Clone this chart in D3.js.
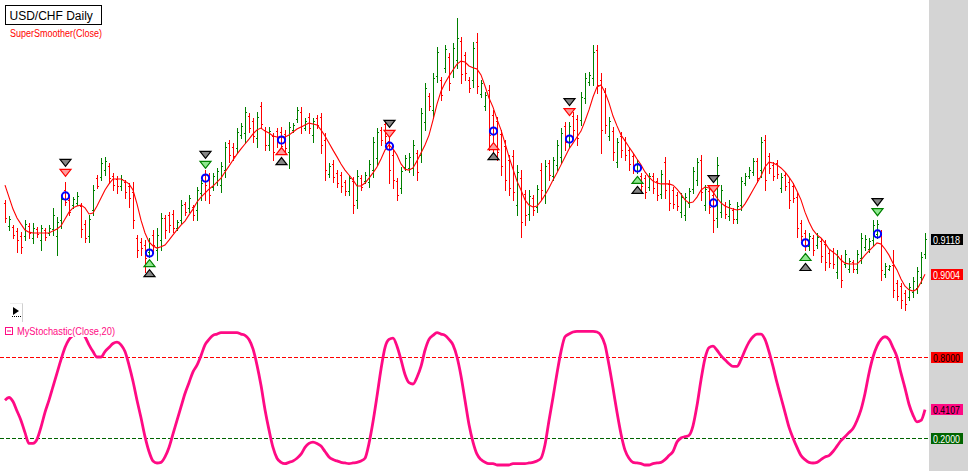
<!DOCTYPE html>
<html><head><meta charset="utf-8">
<script src="https://cdn.jsdelivr.net/npm/d3@7"></script>
<style>html,body{margin:0;padding:0;background:#fff;}svg{display:block;}</style>
</head><body>
<svg id="c" width="968" height="471"></svg>
<script>
// prices in pips (x 1e-4)
const opensPips = [9236,9161,9158,9145,9128,9128,9161,9122,9151,9115,
9148,9138,9151,9128,9180,9278,9246,9229,9236,9226,
9167,9128,9213,9317,9320,9343,9356,9324,9314,9291,
9304,9291,9272,9122,9109,9099,9076,9132,9083,9115,
9187,9197,9200,9154,9180,9233,9220,9223,9213,9268,
9327,9324,9288,9304,9294,9343,9431,9418,9415,9457,
9464,9519,9503,9448,9552,9474,9425,9454,9470,9467,
9461,9402,9474,9509,9532,9480,9516,9457,9513,9516,
9441,9330,9363,9334,9327,9304,9275,9307,9246,9317,
9307,9304,9343,9382,9474,9493,9438,9392,9307,9285,
9353,9350,9350,9399,9392,9500,9584,9539,9649,9636,
9676,9711,9669,9702,9763,9718,9636,9636,9760,9591,
9552,9604,9522,9503,9461,9421,9376,9389,9229,9317,
9265,9200,9252,9223,9343,9262,9366,9324,9360,9386,
9487,9434,9519,9509,9506,9578,9630,9643,9734,9636,
9597,9454,9470,9369,9454,9441,9408,9389,9340,9324,
9317,9288,9324,9307,9265,9369,9298,9278,9262,9206,
9197,9236,9281,9311,9376,9229,9275,9262,9187,9206,
9229,9193,9213,9184,9229,9301,9324,9337,9373,9343,
9441,9389,9360,9366,9285,9327,9304,9291,9255,9171,
9138,9096,9122,9099,9112,9102,9073,9080,9011,9053,
9037,9021,9044,9021,9057,9093,9086,9115,9135,9135,
9005,9021,9034,8975,8965,8943,8930,8946,8959,8995,
9070];
const highsPips = [9246,9193,9164,9154,9141,9180,9171,9171,9158,9164,
9154,9164,9220,9190,9262,9304,9255,9255,9272,9236,
9180,9197,9294,9327,9382,9386,9366,9334,9324,9327,
9311,9301,9304,9132,9122,9115,9122,9148,9154,9203,
9197,9206,9213,9180,9246,9239,9262,9229,9288,9311,
9343,9334,9334,9350,9369,9434,9441,9431,9480,9496,
9548,9529,9513,9532,9565,9483,9483,9464,9480,9483,
9474,9500,9496,9548,9548,9513,9529,9513,9522,9529,
9464,9366,9376,9343,9337,9311,9327,9320,9343,9327,
9337,9376,9451,9480,9483,9506,9451,9408,9317,9353,
9392,9399,9441,9408,9545,9627,9594,9659,9744,9646,
9750,9724,9757,9838,9776,9728,9646,9760,9790,9636,
9597,9620,9539,9516,9474,9441,9392,9408,9360,9343,
9278,9278,9262,9294,9366,9376,9376,9386,9441,9480,
9500,9500,9532,9522,9597,9659,9662,9750,9750,9659,
9610,9516,9483,9448,9467,9451,9418,9399,9376,9334,
9327,9334,9334,9317,9343,9386,9311,9288,9272,9268,
9268,9285,9353,9382,9392,9294,9285,9278,9386,9294,
9239,9246,9220,9239,9320,9334,9353,9382,9382,9451,
9457,9399,9369,9376,9334,9337,9317,9301,9268,9180,
9148,9138,9132,9138,9122,9115,9083,9089,9083,9066,
9083,9057,9050,9083,9138,9132,9122,9180,9180,9148,
9040,9034,9083,8985,8975,8952,8975,8995,9027,9076,
9138];
const lowsPips = [9174,9148,9122,9076,9073,9115,9122,9106,9125,9083,
9115,9132,9132,9066,9154,9229,9197,9220,9229,9125,
9109,9109,9197,9285,9311,9327,9301,9278,9268,9278,
9252,9223,9154,9060,9066,9011,9060,9073,9050,9083,
9122,9141,9141,9148,9171,9197,9206,9180,9180,9246,
9246,9236,9278,9294,9272,9320,9369,9376,9402,9448,
9431,9467,9434,9418,9480,9408,9408,9376,9418,9402,
9399,9350,9467,9500,9464,9474,9464,9434,9480,9399,
9311,9320,9304,9288,9272,9262,9262,9203,9220,9278,
9301,9288,9320,9360,9425,9431,9301,9285,9246,9268,
9343,9337,9327,9311,9369,9474,9539,9513,9630,9571,
9662,9604,9646,9676,9627,9636,9597,9614,9594,9581,
9539,9408,9386,9376,9327,9278,9262,9246,9197,9125,
9164,9180,9197,9206,9246,9236,9311,9311,9343,9366,
9408,9418,9451,9425,9490,9562,9620,9620,9594,9399,
9464,9441,9376,9353,9386,9376,9343,9334,9334,9278,
9252,9278,9268,9246,9252,9252,9213,9220,9213,9190,
9180,9223,9268,9294,9246,9213,9203,9141,9158,9190,
9187,9180,9171,9171,9213,9294,9317,9327,9304,9320,
9278,9334,9311,9317,9272,9278,9220,9239,9125,9115,
9083,9083,9066,9089,9044,9018,9027,9024,8992,8962,
9027,9011,9011,9008,9040,9083,9076,9099,9122,8985,
8995,9018,8930,8920,8894,8887,8920,8930,8943,8975,
9057];
const closesPips = [9187,9184,9132,9115,9093,9167,9138,9154,9135,9154,
9125,9154,9197,9174,9249,9239,9206,9249,9259,9151,
9122,9184,9278,9291,9366,9373,9317,9294,9291,9314,
9272,9252,9180,9083,9089,9057,9106,9099,9132,9187,
9148,9164,9154,9174,9229,9206,9252,9197,9278,9301,
9294,9262,9324,9340,9356,9418,9392,9389,9467,9487,
9532,9480,9454,9516,9493,9425,9470,9402,9438,9421,
9415,9483,9490,9539,9487,9503,9480,9503,9490,9425,
9343,9356,9320,9301,9291,9275,9317,9229,9324,9288,
9327,9363,9434,9467,9441,9454,9343,9311,9262,9340,
9382,9386,9425,9337,9529,9610,9552,9643,9728,9588,
9737,9627,9741,9773,9656,9659,9610,9741,9617,9627,
9588,9457,9415,9402,9356,9311,9285,9272,9337,9174,
9197,9259,9213,9281,9278,9356,9327,9376,9425,9464,
9434,9487,9474,9448,9581,9643,9653,9728,9620,9474,
9490,9503,9402,9434,9408,9392,9363,9350,9366,9291,
9272,9324,9285,9262,9330,9278,9236,9233,9226,9255,
9255,9275,9340,9369,9272,9281,9223,9180,9360,9278,
9200,9233,9184,9226,9307,9324,9343,9373,9317,9434,
9311,9350,9324,9330,9320,9291,9246,9252,9154,9128,
9099,9128,9083,9125,9063,9044,9040,9037,9063,8985,
9070,9047,9021,9070,9122,9118,9112,9164,9167,9018,
9031,9031,8952,8933,8920,8907,8962,8982,9014,9060,
9118];
const smootherPips = [9294,9255,9216,9187,9167,9148,9141,9138,9138,9138,
9138,9138,9145,9151,9161,9184,9206,9220,9226,9229,
9220,9200,9203,9226,9252,9278,9298,9314,9314,9314,
9307,9298,9278,9233,9180,9138,9109,9096,9089,9093,
9099,9115,9132,9148,9164,9177,9197,9216,9239,9255,
9268,9281,9291,9304,9317,9337,9356,9376,9395,9412,
9428,9444,9461,9474,9480,9470,9464,9454,9451,9451,
9451,9457,9467,9477,9483,9490,9496,9493,9490,9474,
9454,9431,9408,9386,9363,9343,9327,9311,9291,9291,
9301,9317,9334,9353,9379,9408,9425,9412,9392,9363,
9346,9343,9350,9373,9399,9425,9457,9506,9558,9600,
9627,9649,9669,9688,9698,9695,9682,9676,9672,9653,
9617,9578,9548,9509,9474,9431,9386,9346,9307,9278,
9246,9229,9223,9226,9242,9262,9285,9311,9334,9360,
9386,9412,9431,9451,9470,9503,9539,9581,9614,9620,
9597,9562,9519,9487,9457,9438,9418,9399,9379,9360,
9337,9320,9307,9301,9298,9298,9298,9294,9281,9265,
9246,9236,9239,9255,9278,9288,9285,9272,9252,9236,
9226,9220,9216,9213,9216,9233,9255,9278,9301,9324,
9353,9369,9366,9360,9350,9337,9320,9301,9275,9246,
9206,9174,9148,9132,9122,9106,9086,9076,9066,9050,
9040,9037,9037,9037,9050,9066,9080,9093,9106,9102,
9086,9066,9040,9018,8988,8965,8953,8949,8955,8978,
9004];
const stochValues = [0.48,0.50,0.47,0.40,0.33,0.24,0.16,0.16,0.19,0.28,
0.39,0.48,0.58,0.68,0.78,0.87,0.93,0.96,0.98,0.98,
0.95,0.89,0.84,0.80,0.80,0.84,0.87,0.90,0.91,0.89,
0.84,0.74,0.62,0.48,0.35,0.21,0.10,0.03,0.015,0.02,
0.06,0.13,0.23,0.33,0.43,0.53,0.61,0.69,0.74,0.81,
0.89,0.93,0.96,0.97,0.98,0.98,0.98,0.98,0.98,0.97,
0.96,0.93,0.86,0.74,0.59,0.41,0.26,0.13,0.05,0.02,
0.01,0.02,0.03,0.05,0.08,0.13,0.16,0.17,0.16,0.14,
0.10,0.06,0.04,0.03,0.02,0.015,0.01,0.015,0.02,0.03,
0.05,0.16,0.32,0.51,0.71,0.87,0.93,0.94,0.88,0.78,
0.67,0.61,0.60,0.65,0.73,0.85,0.93,0.96,0.98,0.97,
0.96,0.93,0.89,0.80,0.66,0.48,0.30,0.17,0.08,0.04,
0.02,0.01,0.01,0.00,0.00,0.00,0.00,0.01,0.01,0.01,
0.01,0.015,0.02,0.03,0.05,0.15,0.33,0.50,0.68,0.84,
0.95,0.97,0.985,0.99,0.99,0.99,0.99,0.99,0.985,0.96,
0.89,0.74,0.57,0.39,0.23,0.11,0.05,0.02,0.015,0.01,
0.00,0.00,0.01,0.015,0.02,0.04,0.07,0.10,0.17,0.20,
0.21,0.22,0.29,0.44,0.63,0.79,0.87,0.88,0.85,0.81,
0.78,0.75,0.73,0.73,0.78,0.85,0.91,0.95,0.97,0.97,
0.93,0.84,0.73,0.61,0.50,0.39,0.28,0.20,0.13,0.07,
0.04,0.02,0.015,0.02,0.04,0.06,0.07,0.10,0.14,0.18,
0.21,0.24,0.27,0.33,0.41,0.53,0.68,0.80,0.88,0.93,
0.95,0.93,0.87,0.80,0.68,0.57,0.45,0.37,0.32,0.33,
0.4107];
// signals
const sigIndex  = [15, 36, 50, 69, 96, 122, 141, 158, 177, 200, 218];
const sigCircle = [9259, 9073, 9317, 9441, 9421, 9470, 9444, 9350, 9236, 9106, 9135];
const sigTri    = [9334, 9040, 9360, 9405, 9461, 9421, 9532, 9311, 9281, 9060, 9206];
const sigDir    = ["down","up","down","up","down","up","down","up","down","up","down"];
const sigKind   = ["sell","buy","buy","sell","sell","sell","sell","buy","sell","buy","buy"];
const stochLevels = [0.8, 0.2];
const stochLevelColors = ['#ff0000', '#006400'];
const titleText = "USD/CHF Daily";
const smootherName = "SuperSmoother(Close)";
const stochName = "MyStochastic(Close,20)";

const N = closesPips.length;
const P = v => v / 10000;
const svg = d3.select('#c');
const FONT = "'Liberation Sans', Arial, sans-serif";
const PINK = '#ff0a84';

svg.append('rect').attr('width', 968).attr('height', 471).attr('fill', '#fff');
svg.append('rect').attr('x', 929).attr('y', 0).attr('width', 39).attr('height', 471).attr('fill', '#d4d4d4');

const defs = svg.append('defs');
defs.append('clipPath').attr('id', 'cm').append('rect').attr('x', 0).attr('y', 0).attr('width', 929).attr('height', 471);

const x = d3.scalePoint().domain(d3.range(N)).range([5, 925]);
const y = d3.scaleLinear().domain([0.885476, 0.9897]).range([320, 0]);
const ys = d3.scaleLinear().domain([0, 1]).range([465, 330]);

const plot = svg.append('g').attr('clip-path', 'url(#cm)');

// stochastic level lines
stochLevels.forEach((lv, k) => {
  const yy = Math.round(ys(lv)) + 0.5;
  plot.append('line').attr('x1', 0).attr('x2', 929).attr('y1', yy).attr('y2', yy)
    .attr('stroke', stochLevelColors[k]).attr('stroke-width', 1)
    .attr('stroke-dasharray', '4,2').attr('shape-rendering', 'crispEdges');
});

// OHLC bars
const bars = plot.append('g').attr('shape-rendering', 'crispEdges');
d3.range(N).forEach(i => {
  const o = P(opensPips[i]), h = P(highsPips[i]), l = P(lowsPips[i]), c = P(closesPips[i]);
  const col = c >= o ? '#008000' : '#ff0000';
  const xi = Math.round(x(i)) + 0.5;
  bars.append('line').attr('x1', xi).attr('x2', xi)
    .attr('y1', Math.round(y(h))).attr('y2', Math.round(y(l)) + 1)
    .attr('stroke', col);
  const yo = Math.round(y(o)) + 0.5, yc = Math.round(y(c)) + 0.5;
  bars.append('line').attr('x1', xi - 1.5).attr('x2', xi - 0.5).attr('y1', yo).attr('y2', yo).attr('stroke', col);
  bars.append('line').attr('x1', xi + 0.5).attr('x2', xi + 1.5).attr('y1', yc).attr('y2', yc).attr('stroke', col);
});

// SuperSmoother
plot.append('path')
  .attr('d', d3.line().x((d, i) => x(i)).y(d => y(P(d)))(smootherPips))
  .attr('fill', 'none').attr('stroke', '#ff0000').attr('stroke-width', 1.1);

// signals
const triStyle = {
  sell: { fill: '#ff9c9c', stroke: '#ff0000' },
  buy:  { fill: '#8ee88e', stroke: '#008000' },
  gray: { fill: '#858585', stroke: '#000000' }
};
function tri(g, cx, cy, dir, st) {
  const w = 5.5, h = 3.5;
  const pts = dir === 'down'
    ? [[cx - w, cy - h], [cx + w, cy - h], [cx, cy + h]]
    : [[cx - w, cy + h], [cx + w, cy + h], [cx, cy - h]];
  g.append('path').attr('d', 'M' + pts.map(p => p.join(',')).join('L') + 'Z')
    .attr('fill', st.fill).attr('stroke', st.stroke).attr('stroke-width', 1.2);
}
const sg = plot.append('g');
sigIndex.forEach((idx, k) => {
  const cx = Math.round(x(idx)) + 0.5;
  const ty = y(P(sigTri[k]));
  const dir = sigDir[k];
  tri(sg, cx, ty, dir, triStyle[sigKind[k]]);
  tri(sg, cx, dir === 'down' ? ty - 10 : ty + 10, dir, triStyle.gray);
  sg.append('circle').attr('cx', cx).attr('cy', y(P(sigCircle[k]))).attr('r', 3.6)
    .attr('fill', 'none').attr('stroke', '#0000ff').attr('stroke-width', 2);
});

// stochastic line
plot.append('path')
  .attr('d', d3.line().x((d, i) => x(i)).y(d => ys(d)).curve(d3.curveMonotoneX)(stochValues))
  .attr('fill', 'none').attr('stroke', PINK).attr('stroke-width', 2.8).attr('stroke-linejoin', 'round');

// title box
svg.append('rect').attr('x', 5.5).attr('y', 5.5).attr('width', 96).attr('height', 19)
  .attr('fill', '#fff').attr('stroke', '#000').attr('stroke-width', 1);
svg.append('text').attr('x', 9.5).attr('y', 19.5).attr('font-family', FONT).attr('font-size', 12)
  .attr('fill', '#000').text(titleText);
svg.append('text').attr('x', 10).attr('y', 37).attr('font-family', FONT).attr('font-size', 10)
  .attr('textLength', 92).attr('lengthAdjust', 'spacingAndGlyphs')
  .attr('fill', '#ff0000').text(smootherName);

// play icon
const ic = svg.append('g');
ic.append('line').attr('x1', 22.5).attr('x2', 22.5).attr('y1', 303).attr('y2', 322).attr('stroke', '#d0d0d0');
ic.append('line').attr('x1', 10).attr('x2', 22.5).attr('y1', 303.5).attr('y2', 303.5).attr('stroke', '#eeeeee');
ic.append('path').attr('d', 'M13,307 L19,311 L13,315 Z').attr('fill', '#000');
ic.append('line').attr('x1', 12).attr('x2', 21).attr('y1', 316.5).attr('y2', 316.5)
  .attr('stroke', '#000').attr('stroke-dasharray', '1,1');

// stochastic legend (opaque background, like the original)
const lg = svg.append('g');
lg.append('rect').attr('x', 3).attr('y', 325).attr('width', 120).attr('height', 12).attr('fill', '#fff');
lg.append('rect').attr('x', 5.5).attr('y', 327.5).attr('width', 7).attr('height', 7)
  .attr('fill', '#fff').attr('stroke', PINK);
lg.append('line').attr('x1', 7).attr('x2', 11).attr('y1', 331).attr('y2', 331).attr('stroke', PINK);
lg.append('text').attr('x', 17).attr('y', 334.5).attr('font-family', FONT).attr('font-size', 10)
  .attr('textLength', 98).attr('lengthAdjust', 'spacingAndGlyphs')
  .attr('fill', PINK).text(stochName);

// right axis labels
const labels = [
  { v: P(closesPips[N - 1]), scale: y, bg: '#000000', fg: '#ffffff' },
  { v: P(smootherPips[N - 1]), scale: y, bg: '#ff0000', fg: '#ffffff' },
  { v: stochLevels[0], scale: ys, bg: '#ff0000', fg: '#000000' },
  { v: stochValues[N - 1], scale: ys, bg: PINK, fg: '#000000' },
  { v: stochLevels[1], scale: ys, bg: '#006400', fg: '#ffffff' }
];
labels.forEach(d => {
  const cy = d.scale(d.v);
  svg.append('rect').attr('x', 931).attr('y', Math.round(cy - 5.5)).attr('width', 32).attr('height', 11)
    .attr('fill', d.bg);
  svg.append('text').attr('x', 933).attr('y', Math.round(cy - 5.5) + 9.5)
    .attr('font-family', FONT).attr('font-size', 10.5)
    .attr('textLength', 27).attr('lengthAdjust', 'spacingAndGlyphs')
    .attr('fill', d.fg).text(d.v.toFixed(4));
});
</script>
</body></html>
